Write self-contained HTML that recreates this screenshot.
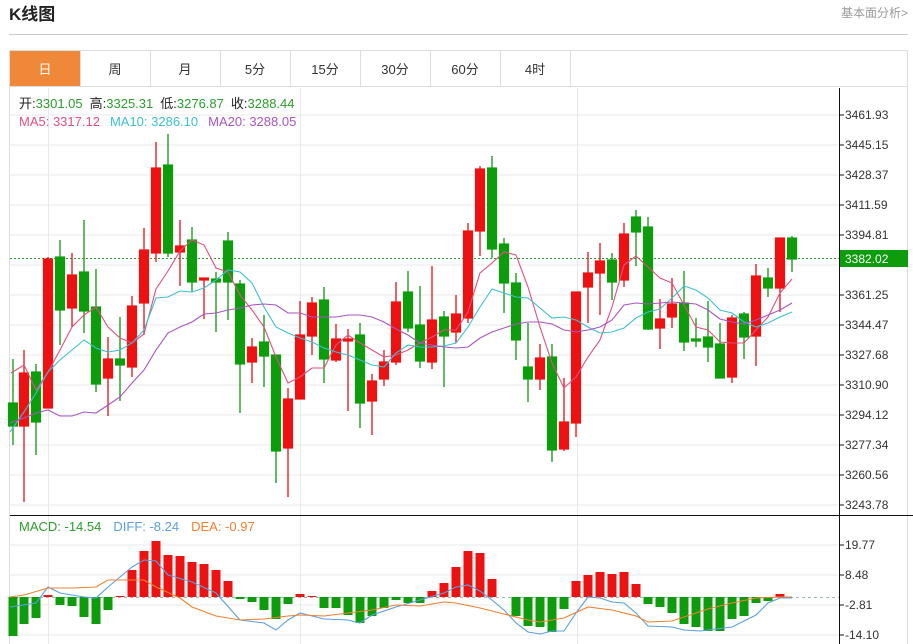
<!DOCTYPE html>
<html><head><meta charset="utf-8"><style>
body{margin:0;width:913px;height:644px;overflow:hidden;background:#fff;font-family:"Liberation Sans","Noto Sans CJK SC",sans-serif;}
svg{position:absolute;left:0;top:0}
</style></head><body>
<svg width="913" height="644" xmlns="http://www.w3.org/2000/svg" font-family="Liberation Sans, Noto Sans CJK SC, sans-serif">
<text x="9" y="20" font-size="17" font-weight="bold" fill="#222">K线图</text>
<text x="908" y="17" font-size="12" fill="#999" text-anchor="end">基本面分析&gt;</text>
<line x1="9" y1="34.5" x2="908" y2="34.5" stroke="#ccc"/>
<rect x="9.5" y="50.5" width="898" height="600" fill="none" stroke="#ddd"/>
<rect x="10" y="51" width="70" height="35" fill="#f0883a"/>
<g stroke="#ddd"><line x1="80.5" y1="51" x2="80.5" y2="86"/><line x1="150.5" y1="51" x2="150.5" y2="86"/><line x1="220.5" y1="51" x2="220.5" y2="86"/><line x1="290.5" y1="51" x2="290.5" y2="86"/><line x1="360.5" y1="51" x2="360.5" y2="86"/><line x1="430.5" y1="51" x2="430.5" y2="86"/><line x1="500.5" y1="51" x2="500.5" y2="86"/><line x1="570.5" y1="51" x2="570.5" y2="86"/><line x1="10" y1="86.5" x2="907" y2="86.5"/></g>
<g font-size="13" text-anchor="middle" fill="#333"><text x="45" y="74" fill="#fff">日</text><text x="115" y="74">周</text><text x="185" y="74">月</text><text x="255" y="74">5分</text><text x="325" y="74">15分</text><text x="395" y="74">30分</text><text x="465" y="74">60分</text><text x="535" y="74">4时</text></g>
<g stroke="#e8e8e8"><line x1="10" y1="115" x2="839" y2="115"/><line x1="10" y1="145" x2="839" y2="145"/><line x1="10" y1="175" x2="839" y2="175"/><line x1="10" y1="205" x2="839" y2="205"/><line x1="10" y1="235" x2="839" y2="235"/><line x1="10" y1="265" x2="839" y2="265"/><line x1="10" y1="295" x2="839" y2="295"/><line x1="10" y1="325" x2="839" y2="325"/><line x1="10" y1="355" x2="839" y2="355"/><line x1="10" y1="385" x2="839" y2="385"/><line x1="10" y1="415" x2="839" y2="415"/><line x1="10" y1="445" x2="839" y2="445"/><line x1="10" y1="475" x2="839" y2="475"/><line x1="10" y1="505" x2="839" y2="505"/><line x1="10" y1="545" x2="839" y2="545"/><line x1="10" y1="575" x2="839" y2="575"/><line x1="10" y1="605" x2="839" y2="605"/><line x1="10" y1="635" x2="839" y2="635"/><line x1="48.5" y1="88" x2="48.5" y2="644"/><line x1="300.5" y1="88" x2="300.5" y2="644"/><line x1="577.5" y1="88" x2="577.5" y2="644"/></g>
<line x1="10" y1="258.5" x2="839" y2="258.5" stroke="#2a9d2a" stroke-dasharray="2,2"/>
<line x1="10" y1="597.5" x2="839" y2="597.5" stroke="#9bb" stroke-dasharray="3,3"/>
<g id="c">
<path d="M13 359V445M24 350V502M36 364V455M48 257V408M60 240V345M72 253V327M84 220V333M96 269V392M108 337V416M120 317V401M132 296V377M144 228V335M156 142V262M168 134V257M180 220V286M192 227V292M204 278V319M216 272V332M228 232V320M240 280V413M252 338V383M264 315V387M276 355V483M288 388V497M300 301V399M312 297V355M324 287V383M336 324V362M348 329V411M360 323V428M372 374V435M384 350V386M396 282V365M408 271V332M420 286V368M432 266V369M444 311V387M456 295V343M468 223V323M480 166V256M492 156V258M504 238V313M516 273V360M528 323V402M540 344V390M552 344V462M564 378V451M576 292V437M588 252V323M600 243V315M612 253V300M624 223V287M636 210V266M648 217V330M660 299V349M672 278V328M684 271V351M696 318V347M708 301V362M720 323V378M732 315V383M744 312V359M756 264V366M768 268V297M780 238V312M792 236V272" stroke="#888" stroke-width="1.2"/>
</g>
<g fill="#0c9c0c" stroke="#0c9c0c" stroke-width="1.2">
<path d="M13 359V445M36 364V455M60 240V345M84 220V333M96 269V392M120 317V401M168 134V257M192 227V292M216 272V332M228 232V320M240 280V413M264 315V387M276 355V483M324 287V383M360 323V428M408 271V332M420 286V368M444 311V387M492 156V258M504 238V313M516 273V360M528 323V402M552 344V462M612 253V300M636 210V266M648 217V330M684 271V351M696 318V347M708 301V362M720 323V378M744 312V359M768 268V297M792 236V272"/>
<rect x="8.5" y="403" width="9" height="23"/><rect x="31.5" y="372" width="9" height="50"/><rect x="55.5" y="257" width="9" height="53"/><rect x="79.5" y="272" width="9" height="39"/><rect x="91.5" y="307" width="9" height="77"/><rect x="115.5" y="359" width="9" height="6"/><rect x="163.5" y="165" width="9" height="88"/><rect x="187.5" y="240" width="9" height="42"/><rect x="211.5" y="279" width="9" height="3"/><rect x="223.5" y="241" width="9" height="41"/><rect x="235.5" y="284" width="9" height="80"/><rect x="259.5" y="342" width="9" height="14"/><rect x="271.5" y="355" width="9" height="96"/><rect x="319.5" y="300" width="9" height="59"/><rect x="355.5" y="335" width="9" height="68"/><rect x="403.5" y="292" width="9" height="36"/><rect x="415.5" y="325" width="9" height="36"/><rect x="439.5" y="317" width="9" height="19"/><rect x="487.5" y="168" width="9" height="81"/><rect x="499.5" y="244" width="9" height="39"/><rect x="511.5" y="283" width="9" height="57"/><rect x="523.5" y="367" width="9" height="12"/><rect x="547.5" y="357" width="9" height="93"/><rect x="607.5" y="260" width="9" height="22"/><rect x="631.5" y="217" width="9" height="15"/><rect x="643.5" y="227" width="9" height="102"/><rect x="679.5" y="303" width="9" height="39"/><rect x="691.5" y="339" width="9" height="2"/><rect x="703.5" y="337" width="9" height="10"/><rect x="715.5" y="344" width="9" height="34"/><rect x="739.5" y="314" width="9" height="23"/><rect x="763.5" y="278" width="9" height="10"/><rect x="787.5" y="238" width="9" height="21"/>
</g>
<g fill="#ee1111" stroke="#ee1111" stroke-width="1.2">
<path d="M24 350V502M48 257V408M72 253V327M108 337V416M132 296V377M144 228V335M156 142V262M180 220V286M204 278V319M252 338V383M288 388V497M300 301V399M312 297V355M336 324V362M348 329V411M372 374V435M384 350V386M396 282V365M432 266V369M456 295V343M468 223V323M480 166V256M540 344V390M564 378V451M576 292V437M588 252V323M600 243V315M624 223V287M660 299V349M672 278V328M732 315V383M756 264V366M780 238V312"/>
<rect x="19.5" y="373" width="9" height="53"/><rect x="43.5" y="259" width="9" height="149"/><rect x="67.5" y="275" width="9" height="33"/><rect x="103.5" y="359" width="9" height="19"/><rect x="127.5" y="306" width="9" height="61"/><rect x="139.5" y="250" width="9" height="53"/><rect x="151.5" y="168" width="9" height="85"/><rect x="175.5" y="246" width="9" height="6"/><rect x="199.5" y="278" width="9" height="2"/><rect x="247.5" y="347" width="9" height="15"/><rect x="283.5" y="399" width="9" height="49"/><rect x="295.5" y="335" width="9" height="64"/><rect x="307.5" y="303" width="9" height="33"/><rect x="331.5" y="339" width="9" height="21"/><rect x="343.5" y="339" width="9" height="2"/><rect x="367.5" y="381" width="9" height="20"/><rect x="379.5" y="362" width="9" height="17"/><rect x="391.5" y="302" width="9" height="60"/><rect x="427.5" y="320" width="9" height="42"/><rect x="451.5" y="314" width="9" height="18"/><rect x="463.5" y="231" width="9" height="87"/><rect x="475.5" y="169" width="9" height="62"/><rect x="535.5" y="358" width="9" height="21"/><rect x="559.5" y="422" width="9" height="27"/><rect x="571.5" y="292" width="9" height="131"/><rect x="583.5" y="273" width="9" height="14"/><rect x="595.5" y="261" width="9" height="12"/><rect x="619.5" y="234" width="9" height="46"/><rect x="655.5" y="319" width="9" height="9"/><rect x="667.5" y="304" width="9" height="13"/><rect x="727.5" y="318" width="9" height="59"/><rect x="751.5" y="276" width="9" height="60"/><rect x="775.5" y="238" width="9" height="50"/>
</g>
<g fill="none" stroke-width="1.1">
<polyline stroke="#e0507f" points="11,373 24,365 36,390 48,372 60,350 72,327 84,315 96,307 108,327 120,338 132,343 144,334 156,289 168,271 180,251 192,240 204,245 216,268 228,272 240,295 252,310 264,327 276,357 288,383 300,377 312,368 324,368 336,345 348,335 360,343 372,350 384,357 396,355 408,350 420,343 432,337 444,330 456,330 468,312 480,273 492,263 504,252 516,255 528,287 540,327 552,363 564,388 576,377 588,357 600,340 612,307 624,265 636,256 648,267 660,278 672,283 684,305 696,327 708,330 720,342 732,343 744,343 756,330 768,317 780,293 792,279"/>
<polyline stroke="#3cc0d0" points="10,432 24,412 36,393 48,372 60,360 72,350 84,340 96,348 108,352 120,350 132,343 144,330 156,298 168,297 180,291 192,292 204,288 216,280 228,270 240,272 252,283 264,307 276,327 288,333 300,338 312,342 324,348 336,352 348,355 360,360 372,365 384,367 396,353 408,345 420,347 432,347 444,346 456,343 468,327 480,307 492,289 504,293 516,297 528,298 540,308 552,318 564,317 576,320 588,327 600,333 612,332 624,328 636,318 648,312 660,309 672,298 684,286 696,290 708,298 720,310 732,313 744,322 756,327 768,323 780,317 792,312"/>
<polyline stroke="#a855c0" points="10,423 24,418 36,413 48,410 60,416 72,416 84,412 96,413 108,405 120,397 132,383 144,370 156,350 168,333 180,327 192,322 204,314 216,313 228,310 240,308 252,305 264,304 276,305 288,313 300,313 312,317 324,317 336,317 348,315 360,315 372,317 384,322 396,329 408,335 420,343 432,345 444,347 456,348 468,347 480,338 492,332 504,328 516,324 528,322 540,322 552,324 564,330 576,332 588,330 600,327 612,320 624,305 636,303 648,304 660,303 672,302 684,303 696,304 708,310 720,319 732,322 744,324 756,320 768,315 780,310 792,303"/>
</g>
<g fill="#0c9c0c">
<rect x="8.5" y="597" width="9" height="39"/><rect x="19.5" y="597" width="9" height="27"/><rect x="31.5" y="597" width="9" height="21"/><rect x="55.5" y="597" width="9" height="8"/><rect x="67.5" y="597" width="9" height="9"/><rect x="79.5" y="597" width="9" height="20"/><rect x="91.5" y="597" width="9" height="27"/><rect x="103.5" y="597" width="9" height="13"/><rect x="235.5" y="597" width="9" height="2"/><rect x="247.5" y="597" width="9" height="5"/><rect x="259.5" y="597" width="9" height="13"/><rect x="271.5" y="597" width="9" height="22"/><rect x="283.5" y="597" width="9" height="7"/><rect x="319.5" y="597" width="9" height="11"/><rect x="331.5" y="597" width="9" height="11"/><rect x="343.5" y="597" width="9" height="18"/><rect x="355.5" y="597" width="9" height="26"/><rect x="367.5" y="597" width="9" height="19"/><rect x="379.5" y="597" width="9" height="11"/><rect x="391.5" y="597" width="9" height="3"/><rect x="403.5" y="597" width="9" height="6"/><rect x="415.5" y="597" width="9" height="6"/><rect x="511.5" y="597" width="9" height="19"/><rect x="523.5" y="597" width="9" height="29"/><rect x="535.5" y="597" width="9" height="30"/><rect x="547.5" y="597" width="9" height="35"/><rect x="559.5" y="597" width="9" height="12"/><rect x="643.5" y="597" width="9" height="7"/><rect x="655.5" y="597" width="9" height="10"/><rect x="667.5" y="597" width="9" height="16"/><rect x="679.5" y="597" width="9" height="27"/><rect x="691.5" y="597" width="9" height="30"/><rect x="703.5" y="597" width="9" height="34"/><rect x="715.5" y="597" width="9" height="34"/><rect x="727.5" y="597" width="9" height="22"/><rect x="739.5" y="597" width="9" height="19"/><rect x="751.5" y="597" width="9" height="6"/><rect x="763.5" y="597" width="9" height="4"/>
</g>
<g fill="#ee1111">
<rect x="43.5" y="595" width="9" height="2"/><rect x="115.5" y="596" width="9" height="1"/><rect x="127.5" y="570" width="9" height="27"/><rect x="139.5" y="551" width="9" height="46"/><rect x="151.5" y="541" width="9" height="56"/><rect x="163.5" y="555" width="9" height="42"/><rect x="175.5" y="556" width="9" height="41"/><rect x="187.5" y="562" width="9" height="35"/><rect x="199.5" y="564" width="9" height="33"/><rect x="211.5" y="570" width="9" height="27"/><rect x="223.5" y="581" width="9" height="16"/><rect x="295.5" y="594" width="9" height="3"/><rect x="307.5" y="596" width="9" height="1"/><rect x="427.5" y="591" width="9" height="6"/><rect x="439.5" y="583" width="9" height="14"/><rect x="451.5" y="567" width="9" height="30"/><rect x="463.5" y="551" width="9" height="46"/><rect x="475.5" y="553" width="9" height="44"/><rect x="487.5" y="579" width="9" height="18"/><rect x="571.5" y="581" width="9" height="16"/><rect x="583.5" y="575" width="9" height="22"/><rect x="595.5" y="572" width="9" height="25"/><rect x="607.5" y="574" width="9" height="23"/><rect x="619.5" y="572" width="9" height="25"/><rect x="631.5" y="584" width="9" height="13"/><rect x="775.5" y="594" width="9" height="3"/>
</g>
<g fill="none" stroke-width="1.1">
<polyline stroke="#5aa0e0" points="10,607 36,603 48,587 60,593 84,597 96,598 108,587 132,567 144,560 156,561 168,575 192,582 216,593 240,620 264,623 276,630 288,620 300,613 324,619 348,620 360,623 372,615 396,607 420,600 444,593 456,587 468,585 480,591 492,600 504,610 516,623 528,632 540,634 552,631 564,631 576,613 588,597 600,598 612,602 624,603 636,613 648,626 672,627 684,630 700,631 732,627 756,615 768,603 780,598 792,598"/>
<polyline stroke="#f08030" points="10,597 24,595 48,588 72,588 96,587 108,580 144,580 156,587 180,598 192,607 216,616 240,620 264,619 288,616 300,615 324,616 348,613 372,610 396,605 420,606 444,602 456,603 480,608 504,614 528,620 540,622 564,618 588,607 612,610 636,616 648,622 672,621 708,609 732,603 756,598 780,597 792,597"/>
</g>
<line x1="10" y1="515.5" x2="913" y2="515.5" stroke="#111"/>
<line x1="839.5" y1="88" x2="839.5" y2="644" stroke="#111"/>
<g stroke="#111"><line x1="839" y1="115" x2="844" y2="115"/><line x1="839" y1="145" x2="844" y2="145"/><line x1="839" y1="175" x2="844" y2="175"/><line x1="839" y1="205" x2="844" y2="205"/><line x1="839" y1="235" x2="844" y2="235"/><line x1="839" y1="295" x2="844" y2="295"/><line x1="839" y1="325" x2="844" y2="325"/><line x1="839" y1="355" x2="844" y2="355"/><line x1="839" y1="385" x2="844" y2="385"/><line x1="839" y1="415" x2="844" y2="415"/><line x1="839" y1="445" x2="844" y2="445"/><line x1="839" y1="475" x2="844" y2="475"/><line x1="839" y1="505" x2="844" y2="505"/><line x1="839" y1="545" x2="844" y2="545"/><line x1="839" y1="575" x2="844" y2="575"/><line x1="839" y1="605" x2="844" y2="605"/><line x1="839" y1="635" x2="844" y2="635"/></g>
<g font-size="12" fill="#333"><text x="845" y="119">3461.93</text><text x="845" y="149">3445.15</text><text x="845" y="179">3428.37</text><text x="845" y="209">3411.59</text><text x="845" y="239">3394.81</text><text x="845" y="299">3361.25</text><text x="845" y="329">3344.47</text><text x="845" y="359">3327.68</text><text x="845" y="389">3310.90</text><text x="845" y="419">3294.12</text><text x="845" y="449">3277.34</text><text x="845" y="479">3260.56</text><text x="845" y="509">3243.78</text><text x="845" y="549">19.77</text><text x="845" y="579">8.48</text><text x="845" y="609">-2.81</text><text x="845" y="639">-14.10</text></g>
<rect x="840" y="250" width="68" height="17" fill="#0c9c0c"/>
<text x="845" y="263" font-size="12" fill="#fff">3382.02</text>
<g font-size="13"><text x="19" y="108"><tspan fill="#222">开:</tspan><tspan fill="#2a9d2a">3301.05</tspan><tspan fill="#222" dx="7">高:</tspan><tspan fill="#2a9d2a">3325.31</tspan><tspan fill="#222" dx="7">低:</tspan><tspan fill="#2a9d2a">3276.87</tspan><tspan fill="#222" dx="7">收:</tspan><tspan fill="#2a9d2a">3288.44</tspan></text>
<text x="19" y="126"><tspan fill="#e0507f">MA5: 3317.12</tspan><tspan fill="#3cc0d0" dx="10">MA10: 3286.10</tspan><tspan fill="#a855c0" dx="10">MA20: 3288.05</tspan></text>
<text x="19" y="531"><tspan fill="#2a9d2a">MACD: -14.54</tspan><tspan fill="#5aa0e0" dx="12">DIFF: -8.24</tspan><tspan fill="#f08030" dx="12">DEA: -0.97</tspan></text></g>
</svg>
</body></html>
